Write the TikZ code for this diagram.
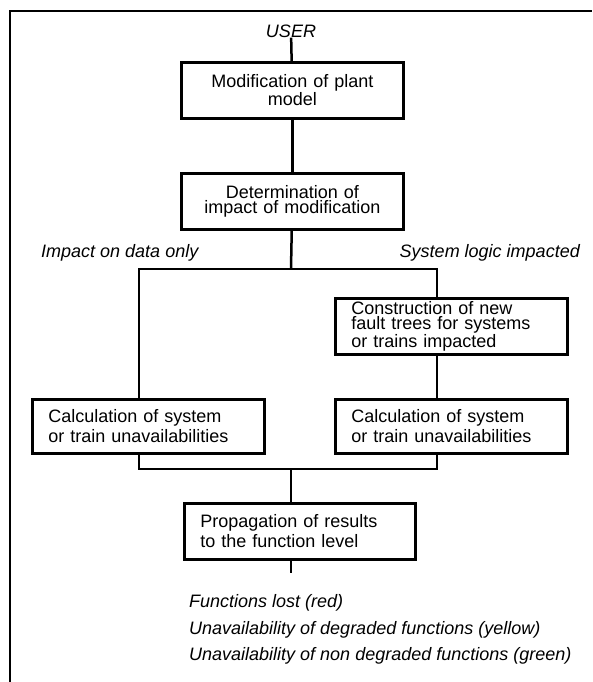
\documentclass[tikz,border=0pt]{standalone}
\usepackage{fontspec}
\setmainfont{Liberation Sans}
% allow tightly set lines inside boxes
\AtBeginDocument{\lineskiplimit=-50pt\relax\lineskip=0pt\relax}
\begin{document}
\begin{tikzpicture}[x=1pt,y=-1pt,
  txt/.style={font=\fontsize{18}{#1}\selectfont},
  stepbox/.style={draw, line width=2.6pt, anchor=north west,
    inner ysep=0pt, inner xsep=16pt, minimum height=56pt},
  link/.style={line width=2.5pt},
  note/.style={font=\fontsize{18}{20}\selectfont\itshape, inner sep=0pt}]
\useasboundingbox (0,0) rectangle (592,682);

% frame
\draw[line width=1.7pt] (10,682) -- (10,11) -- (592,11);

% process boxes
\node[note] (user) at (291,31) {USER};
\node[stepbox, txt=12.5, text width=190pt, align=center] (box1) at (180,61)
  {Modification of plant\\model};
\node[stepbox, txt=13, text width=190pt, align=center] (box2) at (180,172)
  {Determination of\\impact of modification};
\node[stepbox, txt=14.5, text width=200pt, align=left] (box3) at (334,297)
  {Construction of new\\fault trees for systems\\or trains impacted};
\node[stepbox, txt=20, text width=200pt, align=left, minimum height=54pt] (box4) at (31,398)
  {Calculation of system\\or train unavailabilities};
\node[stepbox, txt=20, text width=200pt, align=left, minimum height=54pt] (box5) at (334,398)
  {Calculation of system\\or train unavailabilities};
\node[stepbox, txt=20, text width=199pt, align=left] (box6) at (183,502)
  {Propagation of results\\to the function level};

% branch labels
\node[note, anchor=west] (datalbl) at (41,253) {Impact on data only};
\node[note, anchor=east] (logiclbl) at (580,253) {System logic impacted};

% results
\node[note, anchor=west] (res1) at (189,603) {Functions lost (red)};
\node[note, anchor=west] (res2) at (189,630) {Unavailability of degraded functions (yellow)};
\node[note, anchor=west] (res3) at (189,656) {Unavailability of non degraded functions (green)};

% junction points
\coordinate (split) at (291,269);
\coordinate (splitL) at (139,269);
\coordinate (splitR) at (437,269);
\coordinate (joinL) at (139,469);
\coordinate (joinR) at (437,469);
\coordinate (join) at (291,469);
\coordinate (resout) at (291,573);

% connectors
\draw[link] (user) -- (box1);
\draw[link] (box1) -- (box2);
\draw[link] (box2) -- (split);
\draw[link] (box4.north -| splitL) -- (splitL) -- (splitR) -- (box3.north -| splitR);
\draw[link] (box3.south -| splitR) -- (box5.north -| splitR);
\draw[link] (box4.south -| joinL) -- (joinL) -- (joinR) -- (box5.south -| joinR);
\draw[link] (join) -- (box6.north -| join);
\draw[link] (box6.south -| join) -- (resout);
\end{tikzpicture}
\end{document}
